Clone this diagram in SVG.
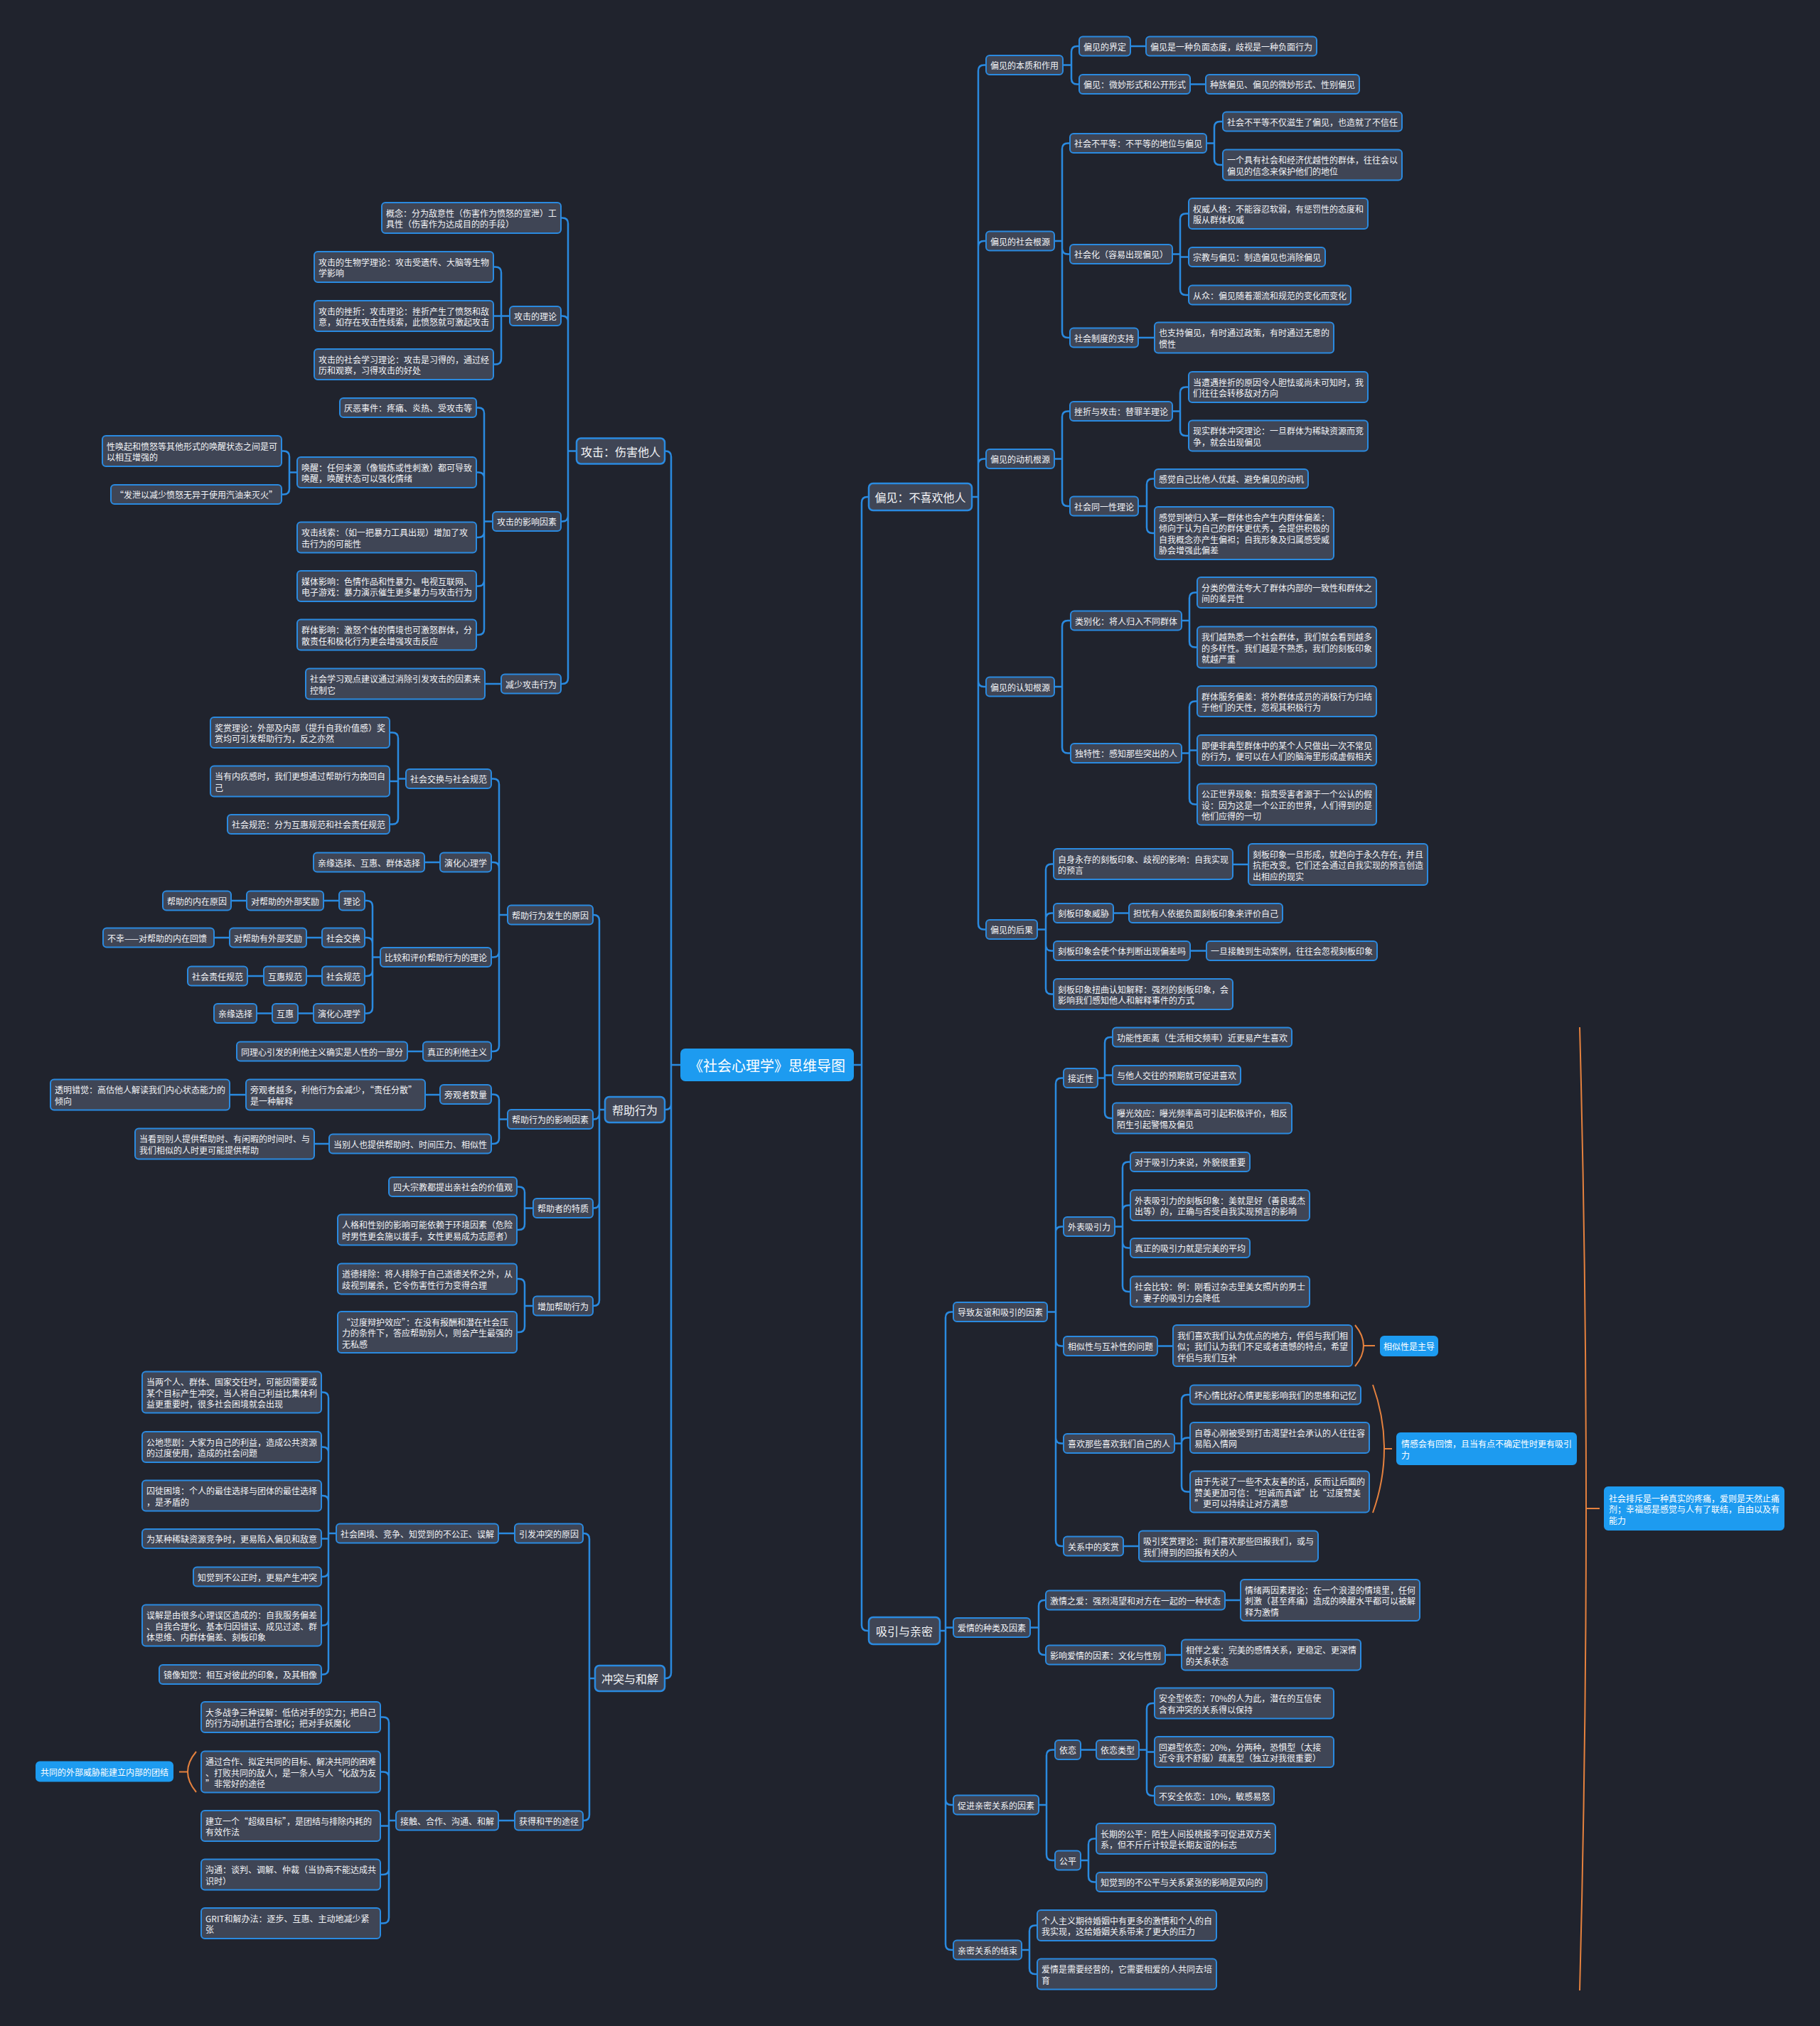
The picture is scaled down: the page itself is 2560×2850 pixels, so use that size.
<svg xmlns="http://www.w3.org/2000/svg" width="2560" height="2850" viewBox="0 0 2560 2850">
<style>
.bg{fill:#20232d}
.n rect{fill:#3f4555;stroke:#2a8ae0;stroke-width:2}
.m rect{fill:#3f4555;stroke:#2a8ae0;stroke-width:2.5}
.h rect{fill:#1d9bf0;stroke:#1d9bf0;stroke-width:2}
.r rect{fill:#1d9bf0;stroke:#1d9bf0;stroke-width:2}
text{font-family:"Noto Sans CJK SC","Noto Sans",sans-serif;fill:#f2f3f5;dominant-baseline:central}
.t{font-size:12px}
.mt{font-size:16px;text-anchor:middle}
.rt{font-size:20px;text-anchor:middle;fill:#ffffff}
.ht{font-size:12px;fill:#ffffff}
.c path{fill:none;stroke:#2a8ae0;stroke-width:2.5}
.o path{fill:none;stroke:#e5813e;stroke-width:2}
</style>
<rect class="bg" x="0" y="0" width="2560" height="2850"/>

<g id="connectors" class="c">
<path d="M1200 1498H1212V707Q1212 699 1220 699H1222M1200 1498H1212V2286Q1212 2294 1220 2294H1222"/>
<path d="M958 1498H944V642.5Q944 634.5 936 634.5H935M958 1498H944V1553Q944 1561 936 1561H935M958 1498H944V2353Q944 2361 936 2361H935"/>
<path d="M1367 699H1376V99.5Q1376 91.5 1384 91.5H1387M1367 699H1376V347Q1376 339 1384 339H1387M1367 699H1376V653.5Q1376 645.5 1384 645.5H1387M1367 699H1376V958Q1376 966 1384 966H1387M1367 699H1376V1299.5Q1376 1307.5 1384 1307.5H1387"/>
<path d="M1495 91.5H1507V73Q1507 65 1515 65H1518M1495 91.5H1507V110.5Q1507 118.5 1515 118.5H1518M1590 65H1612M1674 118.5H1696"/>
<path d="M1483 339H1494V209.5Q1494 201.5 1502 201.5H1505M1483 339H1494V349.5Q1494 357.5 1502 357.5H1505M1483 339H1494V467Q1494 475 1502 475H1505"/>
<path d="M1697 201.5H1708V179Q1708 171 1716 171H1720M1697 201.5H1708V224Q1708 232 1716 232H1720"/>
<path d="M1649 357.5H1660V308.5Q1660 300.5 1668 300.5H1672M1649 357.5H1660V361.5H1672M1649 357.5H1660V407Q1660 415 1668 415H1672M1601 475H1624"/>
<path d="M1483 645.5H1494V586.5Q1494 578.5 1502 578.5H1505M1483 645.5H1494V704Q1494 712 1502 712H1505"/>
<path d="M1649 578.5H1660V552.5Q1660 544.5 1668 544.5H1672M1649 578.5H1660V605Q1660 613 1668 613H1672"/>
<path d="M1601 712H1613V681.5Q1613 673.5 1621 673.5H1624M1601 712H1613V742Q1613 750 1621 750H1624"/>
<path d="M1483 966H1494V881Q1494 873 1502 873H1506M1483 966H1494V1051.5Q1494 1059.5 1502 1059.5H1506"/>
<path d="M1662 873H1673V841.5Q1673 833.5 1681 833.5H1684M1662 873H1673V902.5Q1673 910.5 1681 910.5H1684"/>
<path d="M1662 1059.5H1673V994.5Q1673 986.5 1681 986.5H1684M1662 1059.5H1673V1055.5H1684M1662 1059.5H1673V1123.5Q1673 1131.5 1681 1131.5H1684"/>
<path d="M1459 1307.5H1471V1223.5Q1471 1215.5 1479 1215.5H1482M1459 1307.5H1471V1292.5Q1471 1284.5 1479 1284.5H1482M1459 1307.5H1471V1329.5Q1471 1337.5 1479 1337.5H1482M1459 1307.5H1471V1390.5Q1471 1398.5 1479 1398.5H1482"/>
<path d="M1734 1216H1756M1566 1284.5H1588M1674 1337.5H1697"/>
<path d="M1322 2294H1330V1853.5Q1330 1845.5 1338 1845.5H1341M1322 2294H1330V2289.5H1341M1322 2294H1330V2531Q1330 2539 1338 2539H1341M1322 2294H1330V2735Q1330 2743 1338 2743H1341"/>
<path d="M1473 1845.5H1485V1524.5Q1485 1516.5 1493 1516.5H1496M1473 1845.5H1485V1733.5Q1485 1725.5 1493 1725.5H1496M1473 1845.5H1485V1885.5Q1485 1893.5 1493 1893.5H1496M1473 1845.5H1485V2022.5Q1485 2030.5 1493 2030.5H1496M1473 1845.5H1485V2167Q1485 2175 1493 2175H1496"/>
<path d="M1544 1516.5H1554V1467Q1554 1459 1562 1459H1565M1544 1516.5H1554V1512.5H1565M1544 1516.5H1554V1565Q1554 1573 1562 1573H1565"/>
<path d="M1568 1725.5H1579V1642.5Q1579 1634.5 1587 1634.5H1590M1568 1725.5H1579V1703.5Q1579 1695.5 1587 1695.5H1590M1568 1725.5H1579V1747.5Q1579 1755.5 1587 1755.5H1590M1568 1725.5H1579V1809Q1579 1817 1587 1817H1590"/>
<path d="M1628 1893.5H1650M1580 2175H1602"/>
<path d="M1652 2030.5H1662V1970Q1662 1962 1670 1962H1674M1652 2030.5H1662Q1662 2022.5 1670 2022.5H1674M1652 2030.5H1662V2090.5Q1662 2098.5 1670 2098.5H1674"/>
<path d="M1449 2289.5H1461V2259Q1461 2251 1469 2251H1471M1449 2289.5H1461V2320Q1461 2328 1469 2328H1471M1723 2251H1745M1639 2328H1662"/>
<path d="M1461 2539H1472V2469.5Q1472 2461.5 1480 2461.5H1484M1461 2539H1472V2609Q1472 2617 1480 2617H1484M1520 2461.5H1542"/>
<path d="M1602 2461.5H1613V2404Q1613 2396 1621 2396H1624M1602 2461.5H1613V2464.5H1624M1602 2461.5H1613V2518Q1613 2526 1621 2526H1624"/>
<path d="M1520 2617H1531V2594.5Q1531 2586.5 1539 2586.5H1542M1520 2617H1531V2639.5Q1531 2647.5 1539 2647.5H1542"/>
<path d="M1437 2743H1448V2716.5Q1448 2708.5 1456 2708.5H1459M1437 2743H1448V2769Q1448 2777 1456 2777H1459"/>
<path d="M811 634.5H799V314.5Q799 306.5 791 306.5H789M811 634.5H799V452.5Q799 444.5 791 444.5H789M811 634.5H799V725.5Q799 733.5 791 733.5H789M811 634.5H799V954Q799 962 791 962H789"/>
<path d="M717 444.5H705V383.5Q705 375.5 697 375.5H694M717 444.5H694M717 444.5H705V504.5Q705 512.5 697 512.5H694"/>
<path d="M693 733.5H681V581.5Q681 573.5 673 573.5H670M693 733.5H681V672.5Q681 664.5 673 664.5H670M693 733.5H681V748Q681 756 673 756H670M693 733.5H681V816.5Q681 824.5 673 824.5H670M693 733.5H681V885Q681 893 673 893H670"/>
<path d="M418 664.5H407V642.5Q407 634.5 399 634.5H396M418 664.5H407V687.5Q407 695.5 399 695.5H396M705 962H682"/>
<path d="M851 1561H843V1295Q843 1287 835 1287H834M851 1561H843V1566.5Q843 1574.5 835 1574.5H834M851 1561H843V1691.5Q843 1699.5 835 1699.5H834M851 1561H843V1829Q843 1837 835 1837H834"/>
<path d="M714 1287H702V1103.5Q702 1095.5 694 1095.5H691M714 1287H702V1221Q702 1213 694 1213H691M714 1287H702V1338.5Q702 1346.5 694 1346.5H691M714 1287H702V1471Q702 1479 694 1479H691"/>
<path d="M571 1095.5H560V1038.5Q560 1030.5 552 1030.5H548M571 1095.5H560V1099H548M571 1095.5H560V1151.5Q560 1159.5 552 1159.5H548M619 1213H597"/>
<path d="M535 1346.5H524V1275Q524 1267 516 1267H513M535 1346.5H524V1327Q524 1319 516 1319H513M535 1346.5H524V1365Q524 1373 516 1373H513M535 1346.5H524V1417.5Q524 1425.5 516 1425.5H513"/>
<path d="M477 1267H455M347 1267H325M453 1319H431M323 1319H301M453 1373H431M371 1373H348M441 1425.5H419M383 1425.5H361M595 1479H573"/>
<path d="M714 1574.5H702V1547.5Q702 1539.5 694 1539.5H691M714 1574.5H702V1601Q702 1609 694 1609H691M619 1540H598M346 1540H323M463 1609H442"/>
<path d="M750 1699.5H738V1677.5Q738 1669.5 730 1669.5H727M750 1699.5H738V1722Q738 1730 730 1730H727M750 1837H738V1807Q738 1799 730 1799H727M750 1837H738V1866Q738 1874 730 1874H727"/>
<path d="M837 2361H829V2165Q829 2157 821 2157H820M837 2361H829V2553Q829 2561 821 2561H820M724 2157H701M724 2561H701"/>
<path d="M473 2157H462V1966.5Q462 1958.5 454 1958.5H452M473 2157H462V2043.5Q462 2035.5 454 2035.5H452M473 2157H462V2112Q462 2104 454 2104H452M473 2157H462V2164.5H452M473 2157H462V2210Q462 2218 454 2218H452M473 2157H462V2278.5Q462 2286.5 454 2286.5H452M473 2157H462V2347.5Q462 2355.5 454 2355.5H452"/>
<path d="M557 2561H547V2423.5Q547 2415.5 539 2415.5H535M557 2561H547V2500.5Q547 2492.5 539 2492.5H535M557 2561H547V2568.5H535M557 2561H547V2629Q547 2637 539 2637H535M557 2561H547V2697.5Q547 2705.5 539 2705.5H535"/>
</g>

<g id="brackets" class="o">
<path d="M1906 1864Q1930 1893 1906 1922M1918 1893H1934"/>
<path d="M1931 1948Q1963 2038 1931 2128M1947 2038H1958"/>
<path d="M2222 1445Q2240 2122 2222 2800M2231 2122H2250"/>
<path d="M276 2464Q252 2492.5 276 2521M264 2492.5H252"/>
</g>

<g id="root" class="r"><rect x="958" y="1476" width="242" height="44" rx="6"/><text class="rt" x="1079" y="1498">《社会心理学》思维导图</text></g>

<g id="pj" class="m"><rect x="1222" y="680" width="145" height="38" rx="6"/><text class="mt" x="1294.5" y="699">偏见：不喜欢他人</text></g>
<g id="A1" class="n"><rect x="1387" y="78" width="108" height="27" rx="5"/><text class="t" x="1393" y="91.5">偏见的本质和作用</text></g>
<g id="A1a" class="n"><rect x="1518" y="51.5" width="72" height="27" rx="5"/><text class="t" x="1524" y="65">偏见的界定</text></g>
<g id="A1a1" class="n"><rect x="1612" y="51.5" width="240" height="27" rx="5"/><text class="t" x="1618" y="65">偏见是一种负面态度，歧视是一种负面行为</text></g>
<g id="A1b" class="n"><rect x="1518" y="105" width="156" height="27" rx="5"/><text class="t" x="1524" y="118.5">偏见：微妙形式和公开形式</text></g>
<g id="A1b1" class="n"><rect x="1696" y="105" width="216" height="27" rx="5"/><text class="t" x="1702" y="118.5">种族偏见、偏见的微妙形式、性别偏见</text></g>
<g id="A2" class="n"><rect x="1387" y="325.5" width="96" height="27" rx="5"/><text class="t" x="1393" y="339">偏见的社会根源</text></g>
<g id="A2a" class="n"><rect x="1505" y="188" width="192" height="27" rx="5"/><text class="t" x="1511" y="201.5">社会不平等：不平等的地位与偏见</text></g>
<g id="A2a1" class="n"><rect x="1720" y="157.5" width="252" height="27" rx="5"/><text class="t" x="1726" y="171">社会不平等不仅滋生了偏见，也造就了不信任</text></g>
<g id="A2a2" class="n"><rect x="1720" y="210.5" width="252" height="43" rx="5"/><text class="t"><tspan x="1726" y="224.25">一个具有社会和经济优越性的群体，往往会以</tspan><tspan x="1726" y="239.75">偏见的信念来保护他们的地位</tspan></text></g>
<g id="A2b" class="n"><rect x="1505" y="344" width="144" height="27" rx="5"/><text class="t" x="1511" y="357.5">社会化（容易出现偏见）</text></g>
<g id="A2b1" class="n"><rect x="1672" y="279" width="252" height="43" rx="5"/><text class="t"><tspan x="1678" y="292.75">权威人格：不能容忍软弱，有惩罚性的态度和</tspan><tspan x="1678" y="308.25">服从群体权威</tspan></text></g>
<g id="A2b2" class="n"><rect x="1672" y="348" width="192" height="27" rx="5"/><text class="t" x="1678" y="361.5">宗教与偏见：制造偏见也消除偏见</text></g>
<g id="A2b3" class="n"><rect x="1672" y="401.5" width="228" height="27" rx="5"/><text class="t" x="1678" y="415">从众：偏见随着潮流和规范的变化而变化</text></g>
<g id="A2c" class="n"><rect x="1505" y="461.5" width="96" height="27" rx="5"/><text class="t" x="1511" y="475">社会制度的支持</text></g>
<g id="A2c1" class="n"><rect x="1624" y="453.5" width="252" height="43" rx="5"/><text class="t"><tspan x="1630" y="467.25">也支持偏见，有时通过政策，有时通过无意的</tspan><tspan x="1630" y="482.75">惯性</tspan></text></g>
<g id="A3" class="n"><rect x="1387" y="632" width="96" height="27" rx="5"/><text class="t" x="1393" y="645.5">偏见的动机根源</text></g>
<g id="A3a" class="n"><rect x="1505" y="565" width="144" height="27" rx="5"/><text class="t" x="1511" y="578.5">挫折与攻击：替罪羊理论</text></g>
<g id="A3a1" class="n"><rect x="1672" y="523" width="252" height="43" rx="5"/><text class="t"><tspan x="1678" y="536.75">当遭遇挫折的原因令人胆怯或尚未可知时，我</tspan><tspan x="1678" y="552.25">们往往会转移敌对方向</tspan></text></g>
<g id="A3a2" class="n"><rect x="1672" y="591.5" width="252" height="43" rx="5"/><text class="t"><tspan x="1678" y="605.25">现实群体冲突理论：一旦群体为稀缺资源而竞</tspan><tspan x="1678" y="620.75">争，就会出现偏见</tspan></text></g>
<g id="A3b" class="n"><rect x="1505" y="698.5" width="96" height="27" rx="5"/><text class="t" x="1511" y="712">社会同一性理论</text></g>
<g id="A3b1" class="n"><rect x="1624" y="660" width="216" height="27" rx="5"/><text class="t" x="1630" y="673.5">感觉自己比他人优越、避免偏见的动机</text></g>
<g id="A3b2" class="n"><rect x="1624" y="713" width="252" height="74" rx="5"/><text class="t"><tspan x="1630" y="726.75">感觉到被归入某一群体也会产生内群体偏差：</tspan><tspan x="1630" y="742.25">倾向于认为自己的群体更优秀，会提供积极的</tspan><tspan x="1630" y="757.75">自我概念亦产生偏袒；自我形象及归属感受威</tspan><tspan x="1630" y="773.25">胁会增强此偏差</tspan></text></g>
<g id="A4" class="n"><rect x="1387" y="952.5" width="96" height="27" rx="5"/><text class="t" x="1393" y="966">偏见的认知根源</text></g>
<g id="A4a" class="n"><rect x="1506" y="859.5" width="156" height="27" rx="5"/><text class="t" x="1512" y="873">类别化：将人归入不同群体</text></g>
<g id="A4a1" class="n"><rect x="1684" y="812" width="252" height="43" rx="5"/><text class="t"><tspan x="1690" y="825.75">分类的做法夸大了群体内部的一致性和群体之</tspan><tspan x="1690" y="841.25">间的差异性</tspan></text></g>
<g id="A4a2" class="n"><rect x="1684" y="881.5" width="252" height="58" rx="5"/><text class="t"><tspan x="1690" y="895">我们越熟悉一个社会群体，我们就会看到越多</tspan><tspan x="1690" y="910.5">的多样性。我们越是不熟悉，我们的刻板印象</tspan><tspan x="1690" y="926">就越严重</tspan></text></g>
<g id="A4b" class="n"><rect x="1506" y="1046" width="156" height="27" rx="5"/><text class="t" x="1512" y="1059.5">独特性：感知那些突出的人</text></g>
<g id="A4b1" class="n"><rect x="1684" y="965" width="252" height="43" rx="5"/><text class="t"><tspan x="1690" y="978.75">群体服务偏差：将外群体成员的消极行为归结</tspan><tspan x="1690" y="994.25">于他们的天性，忽视其积极行为</tspan></text></g>
<g id="A4b2" class="n"><rect x="1684" y="1034" width="252" height="43" rx="5"/><text class="t"><tspan x="1690" y="1047.75">即便非典型群体中的某个人只做出一次不常见</tspan><tspan x="1690" y="1063.25">的行为，便可以在人们的脑海里形成虚假相关</tspan></text></g>
<g id="A4b3" class="n"><rect x="1684" y="1102.5" width="252" height="58" rx="5"/><text class="t"><tspan x="1690" y="1116">公正世界现象：指责受害者源于一个公认的假</tspan><tspan x="1690" y="1131.5">设：因为这是一个公正的世界，人们得到的是</tspan><tspan x="1690" y="1147">他们应得的一切</tspan></text></g>
<g id="A5" class="n"><rect x="1387" y="1294" width="72" height="27" rx="5"/><text class="t" x="1393" y="1307.5">偏见的后果</text></g>
<g id="A5a" class="n"><rect x="1482" y="1194" width="252" height="43" rx="5"/><text class="t"><tspan x="1488" y="1207.75">自身永存的刻板印象、歧视的影响：自我实现</tspan><tspan x="1488" y="1223.25">的预言</tspan></text></g>
<g id="A5a1" class="n"><rect x="1756" y="1187" width="252" height="58" rx="5"/><text class="t"><tspan x="1762" y="1200.5">刻板印象一旦形成，就趋向于永久存在，并且</tspan><tspan x="1762" y="1216">抗拒改变。它们还会通过自我实现的预言创造</tspan><tspan x="1762" y="1231.5">出相应的现实</tspan></text></g>
<g id="A5b" class="n"><rect x="1482" y="1271" width="84" height="27" rx="5"/><text class="t" x="1488" y="1284.5">刻板印象威胁</text></g>
<g id="A5b1" class="n"><rect x="1588" y="1271" width="216" height="27" rx="5"/><text class="t" x="1594" y="1284.5">担忧有人依据负面刻板印象来评价自己</text></g>
<g id="A5c" class="n"><rect x="1482" y="1324" width="192" height="27" rx="5"/><text class="t" x="1488" y="1337.5">刻板印象会使个体判断出现偏差吗</text></g>
<g id="A5c1" class="n"><rect x="1697" y="1324" width="240" height="27" rx="5"/><text class="t" x="1703" y="1337.5">一旦接触到生动案例，往往会忽视刻板印象</text></g>
<g id="A5d" class="n"><rect x="1482" y="1377" width="252" height="43" rx="5"/><text class="t"><tspan x="1488" y="1390.75">刻板印象扭曲认知解释：强烈的刻板印象，会</tspan><tspan x="1488" y="1406.25">影响我们感知他人和解释事件的方式</tspan></text></g>

<g id="xy" class="m"><rect x="1222" y="2275" width="100" height="38" rx="6"/><text class="mt" x="1272" y="2294">吸引与亲密</text></g>
<g id="B1" class="n"><rect x="1341" y="1832" width="132" height="27" rx="5"/><text class="t" x="1347" y="1845.5">导致友谊和吸引的因素</text></g>
<g id="B1a" class="n"><rect x="1496" y="1503" width="48" height="27" rx="5"/><text class="t" x="1502" y="1516.5">接近性</text></g>
<g id="B1a1" class="n"><rect x="1565" y="1445.5" width="252" height="27" rx="5"/><text class="t" x="1571" y="1459">功能性距离（生活相交频率）近更易产生喜欢</text></g>
<g id="B1a2" class="n"><rect x="1565" y="1499" width="180" height="27" rx="5"/><text class="t" x="1571" y="1512.5">与他人交往的预期就可促进喜欢</text></g>
<g id="B1a3" class="n"><rect x="1565" y="1551.5" width="252" height="43" rx="5"/><text class="t"><tspan x="1571" y="1565.25">曝光效应：曝光频率高可引起积极评价，相反</tspan><tspan x="1571" y="1580.75">陌生引起警惕及偏见</tspan></text></g>
<g id="B1b" class="n"><rect x="1496" y="1712" width="72" height="27" rx="5"/><text class="t" x="1502" y="1725.5">外表吸引力</text></g>
<g id="B1b1" class="n"><rect x="1590" y="1621" width="168" height="27" rx="5"/><text class="t" x="1596" y="1634.5">对于吸引力来说，外貌很重要</text></g>
<g id="B1b2" class="n"><rect x="1590" y="1674" width="252" height="43" rx="5"/><text class="t"><tspan x="1596" y="1687.75">外表吸引力的刻板印象：美就是好（善良或杰</tspan><tspan x="1596" y="1703.25">出等）的，正确与否受自我实现预言的影响</tspan></text></g>
<g id="B1b3" class="n"><rect x="1590" y="1742" width="168" height="27" rx="5"/><text class="t" x="1596" y="1755.5">真正的吸引力就是完美的平均</text></g>
<g id="B1b4" class="n"><rect x="1590" y="1795.5" width="252" height="43" rx="5"/><text class="t"><tspan x="1596" y="1809.25">社会比较：例：刚看过杂志里美女照片的男士</tspan><tspan x="1596" y="1824.75">，妻子的吸引力会降低</tspan></text></g>
<g id="B1c" class="n"><rect x="1496" y="1880" width="132" height="27" rx="5"/><text class="t" x="1502" y="1893.5">相似性与互补性的问题</text></g>
<g id="B1c1" class="n"><rect x="1650" y="1864" width="252" height="58" rx="5"/><text class="t"><tspan x="1656" y="1877.5">我们喜欢我们认为优点的地方，伴侣与我们相</tspan><tspan x="1656" y="1893">似；我们认为我们不足或者遗憾的特点，希望</tspan><tspan x="1656" y="1908.5">伴侣与我们互补</tspan></text></g>
<g id="B1c2" class="h"><rect x="1942" y="1880" width="80" height="27" rx="5"/><text class="ht" x="1946" y="1893.5">相似性是主导</text></g>
<g id="B1d" class="n"><rect x="1496" y="2017" width="156" height="27" rx="5"/><text class="t" x="1502" y="2030.5">喜欢那些喜欢我们自己的人</text></g>
<g id="B1d1" class="n"><rect x="1674" y="1948.5" width="240" height="27" rx="5"/><text class="t" x="1680" y="1962">坏心情比好心情更能影响我们的思维和记忆</text></g>
<g id="B1d2" class="n"><rect x="1674" y="2001" width="252" height="43" rx="5"/><text class="t"><tspan x="1680" y="2014.75">自尊心刚被受到打击渴望社会承认的人往往容</tspan><tspan x="1680" y="2030.25">易陷入情网</tspan></text></g>
<g id="B1d3" class="n"><rect x="1674" y="2069.5" width="252" height="58" rx="5"/><text class="t"><tspan x="1680" y="2083">由于先说了一些不太友善的话，反而让后面的</tspan><tspan x="1680" y="2098.5">赞美更加可信：“坦诚而真诚”比“过度赞美</tspan><tspan x="1680" y="2114">”更可以持续让对方满意</tspan></text></g>
<g id="B1d4" class="h"><rect x="1965" y="2016" width="252" height="44" rx="5"/><text class="ht"><tspan x="1971" y="2030.25">情感会有回馈，且当有点不确定性时更有吸引</tspan><tspan x="1971" y="2045.75">力</tspan></text></g>
<g id="B1e" class="n"><rect x="1496" y="2161.5" width="84" height="27" rx="5"/><text class="t" x="1502" y="2175">关系中的奖赏</text></g>
<g id="B1e1" class="n"><rect x="1602" y="2153.5" width="252" height="43" rx="5"/><text class="t"><tspan x="1608" y="2167.25">吸引奖赏理论：我们喜欢那些回报我们，或与</tspan><tspan x="1608" y="2182.75">我们得到的回报有关的人</tspan></text></g>
<g id="B2" class="n"><rect x="1341" y="2276" width="108" height="27" rx="5"/><text class="t" x="1347" y="2289.5">爱情的种类及因素</text></g>
<g id="B2a" class="n"><rect x="1471" y="2237.5" width="252" height="27" rx="5"/><text class="t" x="1477" y="2251">激情之爱：强烈渴望和对方在一起的一种状态</text></g>
<g id="B2a1" class="n"><rect x="1745" y="2222" width="252" height="58" rx="5"/><text class="t"><tspan x="1751" y="2235.5">情绪两因素理论：在一个浪漫的情境里，任何</tspan><tspan x="1751" y="2251">刺激（甚至疼痛）造成的唤醒水平都可以被解</tspan><tspan x="1751" y="2266.5">释为激情</tspan></text></g>
<g id="B2b" class="n"><rect x="1471" y="2314.5" width="168" height="27" rx="5"/><text class="t" x="1477" y="2328">影响爱情的因素：文化与性别</text></g>
<g id="B2b1" class="n"><rect x="1662" y="2306.5" width="252" height="43" rx="5"/><text class="t"><tspan x="1668" y="2320.25">相伴之爱：完美的感情关系，更稳定、更深情</tspan><tspan x="1668" y="2335.75">的关系状态</tspan></text></g>
<g id="B3" class="n"><rect x="1341" y="2525.5" width="120" height="27" rx="5"/><text class="t" x="1347" y="2539">促进亲密关系的因素</text></g>
<g id="B3a" class="n"><rect x="1484" y="2448" width="36" height="27" rx="5"/><text class="t" x="1490" y="2461.5">依恋</text></g>
<g id="B3a1" class="n"><rect x="1542" y="2448" width="60" height="27" rx="5"/><text class="t" x="1548" y="2461.5">依恋类型</text></g>
<g id="B3a1a" class="n"><rect x="1624" y="2374.5" width="252" height="43" rx="5"/><text class="t"><tspan x="1630" y="2388.25">安全型依恋：70%的人为此，潜在的互信使</tspan><tspan x="1630" y="2403.75">含有冲突的关系得以保持</tspan></text></g>
<g id="B3a1b" class="n"><rect x="1624" y="2443" width="252" height="43" rx="5"/><text class="t"><tspan x="1630" y="2456.75">回避型依恋：20%，分两种，恐惧型（太接</tspan><tspan x="1630" y="2472.25">近令我不舒服）疏离型（独立对我很重要）</tspan></text></g>
<g id="B3a1c" class="n"><rect x="1624" y="2512.5" width="168" height="27" rx="5"/><text class="t" x="1630" y="2526">不安全依恋：10%，敏感易怒</text></g>
<g id="B3b" class="n"><rect x="1484" y="2603.5" width="36" height="27" rx="5"/><text class="t" x="1490" y="2617">公平</text></g>
<g id="B3b1" class="n"><rect x="1542" y="2565" width="252" height="43" rx="5"/><text class="t"><tspan x="1548" y="2578.75">长期的公平：陌生人间投桃报李可促进双方关</tspan><tspan x="1548" y="2594.25">系，但不斤斤计较是长期友谊的标志</tspan></text></g>
<g id="B3b2" class="n"><rect x="1542" y="2634" width="240" height="27" rx="5"/><text class="t" x="1548" y="2647.5">知觉到的不公平与关系紧张的影响是双向的</text></g>
<g id="B4" class="n"><rect x="1341" y="2729.5" width="96" height="27" rx="5"/><text class="t" x="1347" y="2743">亲密关系的结束</text></g>
<g id="B4a" class="n"><rect x="1459" y="2687" width="252" height="43" rx="5"/><text class="t"><tspan x="1465" y="2700.75">个人主义期待婚姻中有更多的激情和个人的自</tspan><tspan x="1465" y="2716.25">我实现，这给婚姻关系带来了更大的压力</tspan></text></g>
<g id="B4b" class="n"><rect x="1459" y="2755.5" width="252" height="43" rx="5"/><text class="t"><tspan x="1465" y="2769.25">爱情是需要经营的，它需要相爱的人共同去培</tspan><tspan x="1465" y="2784.75">育</tspan></text></g>
<g id="Bsum" class="h"><rect x="2257" y="2092" width="252" height="60" rx="5"/><text class="ht"><tspan x="2263" y="2106.5">社会排斥是一种真实的疼痛，爱则是天然止痛</tspan><tspan x="2263" y="2122">剂；幸福感是感觉与人有了联结，自由以及有</tspan><tspan x="2263" y="2137.5">能力</tspan></text></g>

<g id="gj" class="m"><rect x="811" y="616.5" width="124" height="36" rx="6"/><text class="mt" x="873" y="634.5">攻击：伤害他人</text></g>
<g id="C1" class="n"><rect x="537" y="285" width="252" height="43" rx="5"/><text class="t"><tspan x="543" y="298.75">概念：分为敌意性（伤害作为愤怒的宣泄）工</tspan><tspan x="543" y="314.25">具性（伤害作为达成目的的手段）</tspan></text></g>
<g id="C2" class="n"><rect x="717" y="431" width="72" height="27" rx="5"/><text class="t" x="723" y="444.5">攻击的理论</text></g>
<g id="C2a" class="n"><rect x="442" y="354" width="252" height="43" rx="5"/><text class="t"><tspan x="448" y="367.75">攻击的生物学理论：攻击受遗传、大脑等生物</tspan><tspan x="448" y="383.25">学影响</tspan></text></g>
<g id="C2b" class="n"><rect x="442" y="423" width="252" height="43" rx="5"/><text class="t"><tspan x="448" y="436.75">攻击的挫折：攻击理论：挫折产生了愤怒和敌</tspan><tspan x="448" y="452.25">意，如存在攻击性线索，此愤怒就可激起攻击</tspan></text></g>
<g id="C2c" class="n"><rect x="442" y="491" width="252" height="43" rx="5"/><text class="t"><tspan x="448" y="504.75">攻击的社会学习理论：攻击是习得的，通过经</tspan><tspan x="448" y="520.25">历和观察，习得攻击的好处</tspan></text></g>
<g id="C3" class="n"><rect x="693" y="720" width="96" height="27" rx="5"/><text class="t" x="699" y="733.5">攻击的影响因素</text></g>
<g id="C3a" class="n"><rect x="478" y="560" width="192" height="27" rx="5"/><text class="t" x="484" y="573.5">厌恶事件：疼痛、炎热、受攻击等</text></g>
<g id="C3b" class="n"><rect x="418" y="643" width="252" height="43" rx="5"/><text class="t"><tspan x="424" y="656.75">唤醒：任何来源（像锻炼或性刺激）都可导致</tspan><tspan x="424" y="672.25">唤醒，唤醒状态可以强化情绪</tspan></text></g>
<g id="C3b1" class="n"><rect x="144" y="613" width="252" height="43" rx="5"/><text class="t"><tspan x="150" y="626.75">性唤起和愤怒等其他形式的唤醒状态之间是可</tspan><tspan x="150" y="642.25">以相互增强的</tspan></text></g>
<g id="C3b2" class="n"><rect x="156" y="682" width="240" height="27" rx="5"/><text class="t" x="162" y="695.5">“发泄以减少愤怒无异于使用汽油来灭火”</text></g>
<g id="C3c" class="n"><rect x="418" y="734.5" width="252" height="43" rx="5"/><text class="t"><tspan x="424" y="748.25">攻击线索：（如一把暴力工具出现）增加了攻</tspan><tspan x="424" y="763.75">击行为的可能性</tspan></text></g>
<g id="C3d" class="n"><rect x="418" y="803" width="252" height="43" rx="5"/><text class="t"><tspan x="424" y="816.75">媒体影响：色情作品和性暴力、电视互联网、</tspan><tspan x="424" y="832.25">电子游戏：暴力演示催生更多暴力与攻击行为</tspan></text></g>
<g id="C3e" class="n"><rect x="418" y="871.5" width="252" height="43" rx="5"/><text class="t"><tspan x="424" y="885.25">群体影响：激怒个体的情境也可激怒群体，分</tspan><tspan x="424" y="900.75">散责任和极化行为更会增强攻击反应</tspan></text></g>
<g id="C4" class="n"><rect x="705" y="948.5" width="84" height="27" rx="5"/><text class="t" x="711" y="962">减少攻击行为</text></g>
<g id="C4a" class="n"><rect x="430" y="940.5" width="252" height="43" rx="5"/><text class="t"><tspan x="436" y="954.25">社会学习观点建议通过消除引发攻击的因素来</tspan><tspan x="436" y="969.75">控制它</tspan></text></g>

<g id="bz" class="m"><rect x="851" y="1543" width="84" height="36" rx="6"/><text class="mt" x="893" y="1561">帮助行为</text></g>
<g id="D1" class="n"><rect x="714" y="1273.5" width="120" height="27" rx="5"/><text class="t" x="720" y="1287">帮助行为发生的原因</text></g>
<g id="D1a" class="n"><rect x="571" y="1082" width="120" height="27" rx="5"/><text class="t" x="577" y="1095.5">社会交换与社会规范</text></g>
<g id="D1a1" class="n"><rect x="296" y="1009" width="252" height="43" rx="5"/><text class="t"><tspan x="302" y="1022.75">奖赏理论：外部及内部（提升自我价值感）奖</tspan><tspan x="302" y="1038.25">赏均可引发帮助行为，反之亦然</tspan></text></g>
<g id="D1a2" class="n"><rect x="296" y="1077.5" width="252" height="43" rx="5"/><text class="t"><tspan x="302" y="1091.25">当有内疚感时，我们更想通过帮助行为挽回自</tspan><tspan x="302" y="1106.75">己</tspan></text></g>
<g id="D1a3" class="n"><rect x="320" y="1146" width="228" height="27" rx="5"/><text class="t" x="326" y="1159.5">社会规范：分为互惠规范和社会责任规范</text></g>
<g id="D1b" class="n"><rect x="619" y="1199.5" width="72" height="27" rx="5"/><text class="t" x="625" y="1213">演化心理学</text></g>
<g id="D1b1" class="n"><rect x="441" y="1199.5" width="156" height="27" rx="5"/><text class="t" x="447" y="1213">亲缘选择、互惠、群体选择</text></g>
<g id="D1c" class="n"><rect x="535" y="1333" width="156" height="27" rx="5"/><text class="t" x="541" y="1346.5">比较和评价帮助行为的理论</text></g>
<g id="D1c1" class="n"><rect x="477" y="1253.5" width="36" height="27" rx="5"/><text class="t" x="483" y="1267">理论</text></g>
<g id="D1c1a" class="n"><rect x="347" y="1253.5" width="108" height="27" rx="5"/><text class="t" x="353" y="1267">对帮助的外部奖励</text></g>
<g id="D1c1b" class="n"><rect x="229" y="1253.5" width="96" height="27" rx="5"/><text class="t" x="235" y="1267">帮助的内在原因</text></g>
<g id="D1c2" class="n"><rect x="453" y="1305.5" width="60" height="27" rx="5"/><text class="t" x="459" y="1319">社会交换</text></g>
<g id="D1c2a" class="n"><rect x="323" y="1305.5" width="108" height="27" rx="5"/><text class="t" x="329" y="1319">对帮助有外部奖励</text></g>
<g id="D1c2b" class="n"><rect x="145" y="1305.5" width="156" height="27" rx="5"/><text class="t" x="151" y="1319">不幸——对帮助的内在回馈</text></g>
<g id="D1c3" class="n"><rect x="453" y="1359.5" width="60" height="27" rx="5"/><text class="t" x="459" y="1373">社会规范</text></g>
<g id="D1c3a" class="n"><rect x="371" y="1359.5" width="60" height="27" rx="5"/><text class="t" x="377" y="1373">互惠规范</text></g>
<g id="D1c3b" class="n"><rect x="264" y="1359.5" width="84" height="27" rx="5"/><text class="t" x="270" y="1373">社会责任规范</text></g>
<g id="D1c4" class="n"><rect x="441" y="1412" width="72" height="27" rx="5"/><text class="t" x="447" y="1425.5">演化心理学</text></g>
<g id="D1c4a" class="n"><rect x="383" y="1412" width="36" height="27" rx="5"/><text class="t" x="389" y="1425.5">互惠</text></g>
<g id="D1c4b" class="n"><rect x="301" y="1412" width="60" height="27" rx="5"/><text class="t" x="307" y="1425.5">亲缘选择</text></g>
<g id="D1d" class="n"><rect x="595" y="1465.5" width="96" height="27" rx="5"/><text class="t" x="601" y="1479">真正的利他主义</text></g>
<g id="D1d1" class="n"><rect x="333" y="1465.5" width="240" height="27" rx="5"/><text class="t" x="339" y="1479">同理心引发的利他主义确实是人性的一部分</text></g>
<g id="D2" class="n"><rect x="714" y="1561" width="120" height="27" rx="5"/><text class="t" x="720" y="1574.5">帮助行为的影响因素</text></g>
<g id="D2a" class="n"><rect x="619" y="1526" width="72" height="27" rx="5"/><text class="t" x="625" y="1539.5">旁观者数量</text></g>
<g id="D2a1" class="n"><rect x="346" y="1518.5" width="252" height="43" rx="5"/><text class="t"><tspan x="352" y="1532.25">旁观者越多，利他行为会减少，“责任分散”</tspan><tspan x="352" y="1547.75">是一种解释</tspan></text></g>
<g id="D2a2" class="n"><rect x="71" y="1518.5" width="252" height="43" rx="5"/><text class="t"><tspan x="77" y="1532.25">透明错觉：高估他人解读我们内心状态能力的</tspan><tspan x="77" y="1547.75">倾向</tspan></text></g>
<g id="D2b" class="n"><rect x="463" y="1595.5" width="228" height="27" rx="5"/><text class="t" x="469" y="1609">当别人也提供帮助时、时间压力、相似性</text></g>
<g id="D2b1" class="n"><rect x="190" y="1587.5" width="252" height="43" rx="5"/><text class="t"><tspan x="196" y="1601.25">当看到别人提供帮助时、有闲暇的时间时、与</tspan><tspan x="196" y="1616.75">我们相似的人时更可能提供帮助</tspan></text></g>
<g id="D3" class="n"><rect x="750" y="1686" width="84" height="27" rx="5"/><text class="t" x="756" y="1699.5">帮助者的特质</text></g>
<g id="D3a" class="n"><rect x="547" y="1656" width="180" height="27" rx="5"/><text class="t" x="553" y="1669.5">四大宗教都提出亲社会的价值观</text></g>
<g id="D3b" class="n"><rect x="475" y="1708.5" width="252" height="43" rx="5"/><text class="t"><tspan x="481" y="1722.25">人格和性别的影响可能依赖于环境因素（危险</tspan><tspan x="481" y="1737.75">时男性更会施以援手，女性更易成为志愿者）</tspan></text></g>
<g id="D4" class="n"><rect x="750" y="1823.5" width="84" height="27" rx="5"/><text class="t" x="756" y="1837">增加帮助行为</text></g>
<g id="D4a" class="n"><rect x="475" y="1777.5" width="252" height="43" rx="5"/><text class="t"><tspan x="481" y="1791.25">道德排除：将人排除于自己道德关怀之外，从</tspan><tspan x="481" y="1806.75">歧视到屠杀，它令伤害性行为变得合理</tspan></text></g>
<g id="D4b" class="n"><rect x="475" y="1845" width="252" height="58" rx="5"/><text class="t"><tspan x="481" y="1858.5">“过度辩护效应”：在没有报酬和潜在社会压</tspan><tspan x="481" y="1874">力的条件下，答应帮助别人，则会产生最强的</tspan><tspan x="481" y="1889.5">无私感</tspan></text></g>

<g id="ct" class="m"><rect x="837" y="2343" width="98" height="36" rx="6"/><text class="mt" x="886" y="2361">冲突与和解</text></g>
<g id="E1" class="n"><rect x="724" y="2143.5" width="96" height="27" rx="5"/><text class="t" x="730" y="2157">引发冲突的原因</text></g>
<g id="E1a" class="n"><rect x="473" y="2143.5" width="228" height="27" rx="5"/><text class="t" x="479" y="2157">社会困境、竞争、知觉到的不公正、误解</text></g>
<g id="E1a1" class="n"><rect x="200" y="1929.5" width="252" height="58" rx="5"/><text class="t"><tspan x="206" y="1943">当两个人、群体、国家交往时，可能因需要或</tspan><tspan x="206" y="1958.5">某个目标产生冲突，当人将自己利益比集体利</tspan><tspan x="206" y="1974">益更重要时，很多社会困境就会出现</tspan></text></g>
<g id="E1a2" class="n"><rect x="200" y="2014" width="252" height="43" rx="5"/><text class="t"><tspan x="206" y="2027.75">公地悲剧：大家为自己的利益，造成公共资源</tspan><tspan x="206" y="2043.25">的过度使用，造成的社会问题</tspan></text></g>
<g id="E1a3" class="n"><rect x="200" y="2082.5" width="252" height="43" rx="5"/><text class="t"><tspan x="206" y="2096.25">囚徒困境：个人的最佳选择与团体的最佳选择</tspan><tspan x="206" y="2111.75">，是矛盾的</tspan></text></g>
<g id="E1a4" class="n"><rect x="200" y="2151" width="252" height="27" rx="5"/><text class="t" x="206" y="2164.5">为某种稀缺资源竞争时，更易陷入偏见和敌意</text></g>
<g id="E1a5" class="n"><rect x="272" y="2204.5" width="180" height="27" rx="5"/><text class="t" x="278" y="2218">知觉到不公正时，更易产生冲突</text></g>
<g id="E1a6" class="n"><rect x="200" y="2257.5" width="252" height="58" rx="5"/><text class="t"><tspan x="206" y="2271">误解是由很多心理误区造成的：自我服务偏差</tspan><tspan x="206" y="2286.5">、自我合理化、基本归因错误、成见过滤、群</tspan><tspan x="206" y="2302">体思维、内群体偏差、刻板印象</tspan></text></g>
<g id="E1a7" class="n"><rect x="224" y="2342" width="228" height="27" rx="5"/><text class="t" x="230" y="2355.5">镜像知觉：相互对彼此的印象，及其相像</text></g>
<g id="E2" class="n"><rect x="724" y="2547.5" width="96" height="27" rx="5"/><text class="t" x="730" y="2561">获得和平的途径</text></g>
<g id="E2a" class="n"><rect x="557" y="2547.5" width="144" height="27" rx="5"/><text class="t" x="563" y="2561">接触、合作、沟通、和解</text></g>
<g id="E2a1" class="n"><rect x="283" y="2394" width="252" height="43" rx="5"/><text class="t"><tspan x="289" y="2407.75">大多战争三种误解：低估对手的实力；把自己</tspan><tspan x="289" y="2423.25">的行为动机进行合理化；把对手妖魔化</tspan></text></g>
<g id="E2a2" class="n"><rect x="283" y="2463.5" width="252" height="58" rx="5"/><text class="t"><tspan x="289" y="2477">通过合作、拟定共同的目标、解决共同的困难</tspan><tspan x="289" y="2492.5">、打败共同的敌人，是一条人与人“化敌为友</tspan><tspan x="289" y="2508">”非常好的途径</tspan></text></g>
<g id="E2b" class="h"><rect x="51" y="2478.5" width="192" height="27" rx="5"/><text class="ht" x="57" y="2492">共同的外部威胁能建立内部的团结</text></g>
<g id="E2a3" class="n"><rect x="283" y="2547" width="252" height="43" rx="5"/><text class="t"><tspan x="289" y="2560.75">建立一个“超级目标”，是团结与排除内耗的</tspan><tspan x="289" y="2576.25">有效作法</tspan></text></g>
<g id="E2a4" class="n"><rect x="283" y="2615.5" width="252" height="43" rx="5"/><text class="t"><tspan x="289" y="2629.25">沟通：谈判、调解、仲裁（当协商不能达成共</tspan><tspan x="289" y="2644.75">识时）</tspan></text></g>
<g id="E2a5" class="n"><rect x="283" y="2684" width="252" height="43" rx="5"/><text class="t"><tspan x="289" y="2697.75">GRIT和解办法：逐步、互惠、主动地减少紧</tspan><tspan x="289" y="2713.25">张</tspan></text></g>
</svg>
